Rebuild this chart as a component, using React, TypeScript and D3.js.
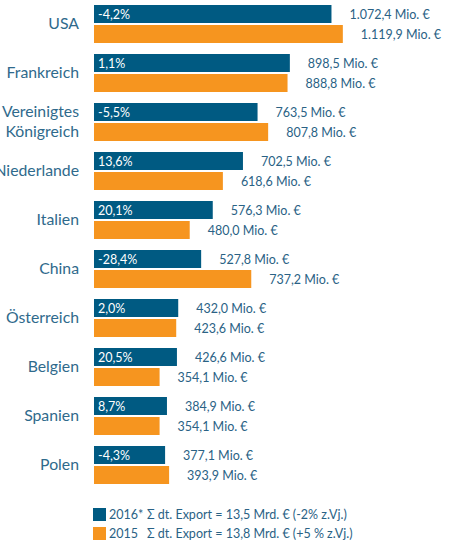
import React from "react";
import * as d3 from "d3";

const categories = [
  "USA",
  "Frankreich",
  "Vereinigtes Königreich",
  "Niederlande",
  "Italien",
  "China",
  "Österreich",
  "Belgien",
  "Spanien",
  "Polen",
];
const seriesKeys = ["2016", "2015"];
const values2016 = [1072.4, 898.5, 763.5, 702.5, 576.3, 527.8, 432.0, 426.6, 384.9, 377.1];
const values2015 = [1119.9, 888.8, 807.8, 618.6, 480.0, 737.2, 423.6, 354.1, 354.1, 393.9];
const change2016 = ["-4,2%", "1,1%", "-5,5%", "13,6%", "20,1%", "-28,4%", "2,0%", "20,5%", "8,7%", "-4,3%"];
const legendYears = ["2016*", "2015"];
const legendTexts = [
  "Σ dt. Export = 13,5 Mrd. € (-2% z.Vj.)",
  "Σ dt. Export = 13,8 Mrd. € (+5 % z.Vj.)",
];

const width = 459;
const height = 543;
const font = "Lato, 'Open Sans', sans-serif";
const colors = { "2016": "#005a82", "2015": "#f6951f" };
const labelColor = "#2f6a8c";
const valueColor = "#2a6285";

const de = d3.formatLocale({ decimal: ",", thousands: ".", grouping: [3], currency: ["", " €"] });
const fmt = de.format(",.1f");

export default function App() {
  // axis is truncated, bars start at 80
  const x = d3.scaleLinear().domain([80, 1200]).range([94, 362]);
  const y = d3.scaleBand().domain(categories).range([5, 484]).paddingInner(11 / 49);
  const inner = d3.scaleBand().domain(seriesKeys).range([0, y.bandwidth()]).paddingInner(0.1);

  const rows = categories.map((c, i) => ({
    cat: c,
    vals: [
      { key: "2016", v: values2016[i] },
      { key: "2015", v: values2015[i] },
    ],
    change: change2016[i],
  }));

  return (
    <svg
      width={width}
      height={height}
      style={{ position: "absolute", left: 0, top: 0, fontFamily: font }}
    >
      {rows.map((r) => {
        const y0 = y(r.cat)!;
        const mid = y0 + y.bandwidth() / 2;
        const lines = r.cat.split(" ");
        return (
          <g key={r.cat}>
            <text
              x={79}
              y={mid}
              textAnchor="end"
              fontSize={15.8}
              fill={labelColor}
            >
              {lines.map((l, k) => (
                <tspan key={k} x={79} dy={k === 0 ? (lines.length - 1) * -10 + 5 : 20}>
                  {l}
                </tspan>
              ))}
            </text>
            {r.vals.map((d) => {
              const by = y0 + inner(d.key)!;
              const bw = inner.bandwidth();
              return (
                <g key={d.key}>
                  <rect
                    x={x(80)}
                    y={by}
                    width={x(d.v) - x(80)}
                    height={bw}
                    fill={colors[d.key as "2016" | "2015"]}
                  />
                  <text
                    x={x(d.v) + 18}
                    y={by + bw / 2 + 4.5}
                    fontSize={12.5}
                    fill={valueColor}
                  >
                    {fmt(d.v) + " Mio. €"}
                  </text>
                </g>
              );
            })}
            <text
              x={x(80) + 4}
              y={y0 + inner("2016")! + inner.bandwidth() / 2 + 4.5}
              fontSize={12.5}
              fill="#fff"
            >
              {r.change}
            </text>
          </g>
        );
      })}
      {seriesKeys.map((k, i) => (
        <g key={k} transform={`translate(93,${508 + i * 19})`}>
          <rect width={13} height={13} fill={colors[k as "2016" | "2015"]} />
          <text x={16} y={11} fontSize={12.5} fill={valueColor}>
            {legendYears[i]}
          </text>
          <text x={54} y={11} fontSize={12.5} fill={valueColor}>
            {legendTexts[i]}
          </text>
        </g>
      ))}
    </svg>
  );
}
